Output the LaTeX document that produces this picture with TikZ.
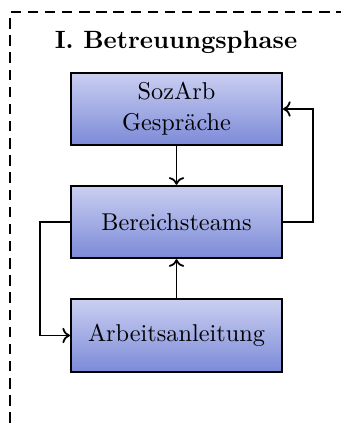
\documentclass[tikz,border=0pt]{standalone}
\usetikzlibrary{arrows.meta}
\definecolor{boxtop}{RGB}{202,207,241}
\definecolor{boxbot}{RGB}{124,138,216}
\tikzset{
  phasebox/.style={draw=black, line width=0.85pt, top color=boxtop, bottom color=boxbot,
    minimum width=88.6pt, minimum height=30.4pt, inner sep=0pt, align=center,
    font=\fontsize{10.2}{13}\selectfont},
  conn/.style={line width=0.75pt, -{To[length=3.2pt,width=6.5pt]}},
  frame/.style={line width=0.7pt, dash pattern=on 4.4pt off 2.8pt}
}
\begin{document}
\begin{tikzpicture}[x=0.42pt,y=-0.42pt]
\useasboundingbox (0,0) rectangle (341,430);
\clip (0,0) rectangle (341,430);
\draw[frame] (10,440) -- (10,12) -- (350,12);
\node[font=\fontsize{10.5}{12.6}\selectfont\bfseries] (title) at (176,42) {I. Betreuungsphase};
\node[phasebox] (b1) at (176.5,109) {SozArb\\Gespräche};
\node[phasebox] (b2) at (176.5,222) {Bereichsteams};
\node[phasebox] (b3) at (176.5,335.5) {Arbeitsanleitung};
\coordinate (rr) at (313,0);
\coordinate (ll) at (40,0);
\draw[conn] (b1.south) -- (b2.north);
\draw[conn] (b3.north) -- (b2.south);
\draw[conn] (b2.east) -- (b2.east -| rr) |- (b1.east);
\draw[conn] (b2.west) -- (b2.west -| ll) |- (b3.west);
\end{tikzpicture}
\end{document}
